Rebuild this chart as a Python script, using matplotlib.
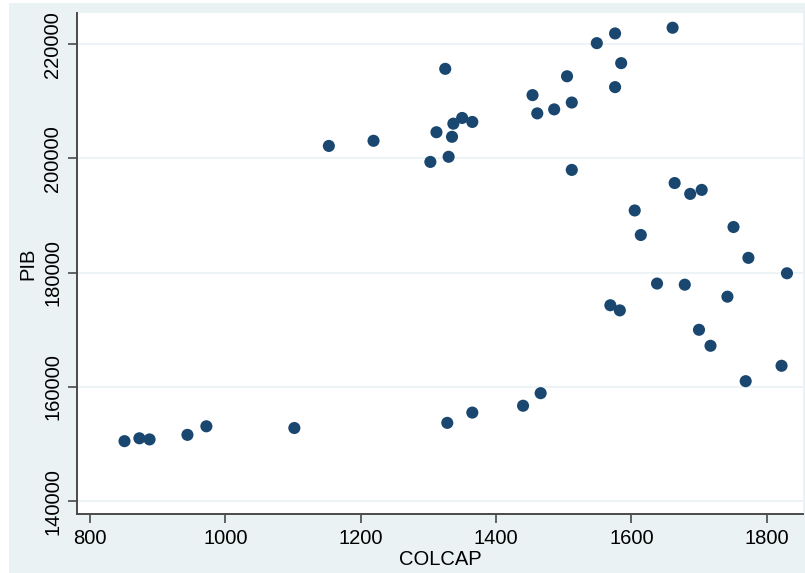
import matplotlib.pyplot as plt
from matplotlib.patches import Rectangle

# Datos
colcap = [851, 873, 888, 944, 972, 1102,
          1153, 1219,
          1303, 1312, 1325, 1328, 1330, 1335, 1337, 1350, 1365, 1365,
          1440, 1454, 1461, 1466, 1486, 1505, 1512, 1512,
          1549, 1569, 1576, 1576, 1583, 1585, 1605, 1614,
          1638, 1661, 1664, 1679, 1687, 1700, 1704, 1717,
          1742, 1751, 1769, 1773, 1822, 1830]
pib = [150500, 151000, 150800, 151600, 153100, 152800,
       202200, 203100,
       199400, 204600, 215700, 153700, 200300, 203800, 206100, 207100, 206400, 155500,
       156700, 211100, 207900, 158900, 208600, 214400, 209800, 198000,
       220200, 174300, 221900, 212500, 173400, 216700, 190900, 186600,
       178100, 222900, 195700, 177900, 193800, 170000, 194500, 167200,
       175800, 188000, 161000, 182600, 163700, 179900]

xticks = [800, 1000, 1200, 1400, 1600, 1800]
yticks = [140000, 160000, 180000, 200000, 220000]

plt.rcParams['font.family'] = ['Liberation Sans', 'DejaVu Sans']

fig = plt.figure(figsize=(8.05, 5.73), dpi=100, facecolor='white')
# Fondo estilo Stata
fig.patches.append(Rectangle((9 / 805, 0), 1, 1 - 3 / 573, transform=fig.transFigure,
                             facecolor='#eaf2f3', edgecolor='none', zorder=-10))

ax = fig.add_axes([77 / 805, 59 / 573, 726 / 805, 501 / 573])
ax.set_facecolor('white')

ax.scatter(colcap, pib, s=76, color='#1a476f', edgecolors='none', zorder=3)

ax.set_xlim(780.8, 1853.7)
ax.set_ylim(137740, 225480)
ax.set_xticks(xticks)
ax.set_yticks(yticks)
ax.set_yticklabels([str(t) for t in yticks], rotation=90, va='center')

ax.grid(axis='y', color='#eaf2f3', linewidth=1.2, zorder=0)
ax.grid(axis='x', visible=False)

for side in ['top', 'right']:
    ax.spines[side].set_visible(False)
for side in ['left', 'bottom']:
    ax.spines[side].set_color('#4a4a4a')
    ax.spines[side].set_linewidth(1.4)

ax.tick_params(axis='both', colors='#4a4a4a', labelcolor='black', labelsize=14.5,
               length=6.5, width=1.2)
ax.tick_params(axis='y', pad=4)
ax.tick_params(axis='x', pad=4)

ax.set_xlabel('COLCAP', fontsize=14.5, labelpad=2)
ax.set_ylabel('PIB', fontsize=14.5, labelpad=4)

fig.savefig('out.png', dpi=100)
